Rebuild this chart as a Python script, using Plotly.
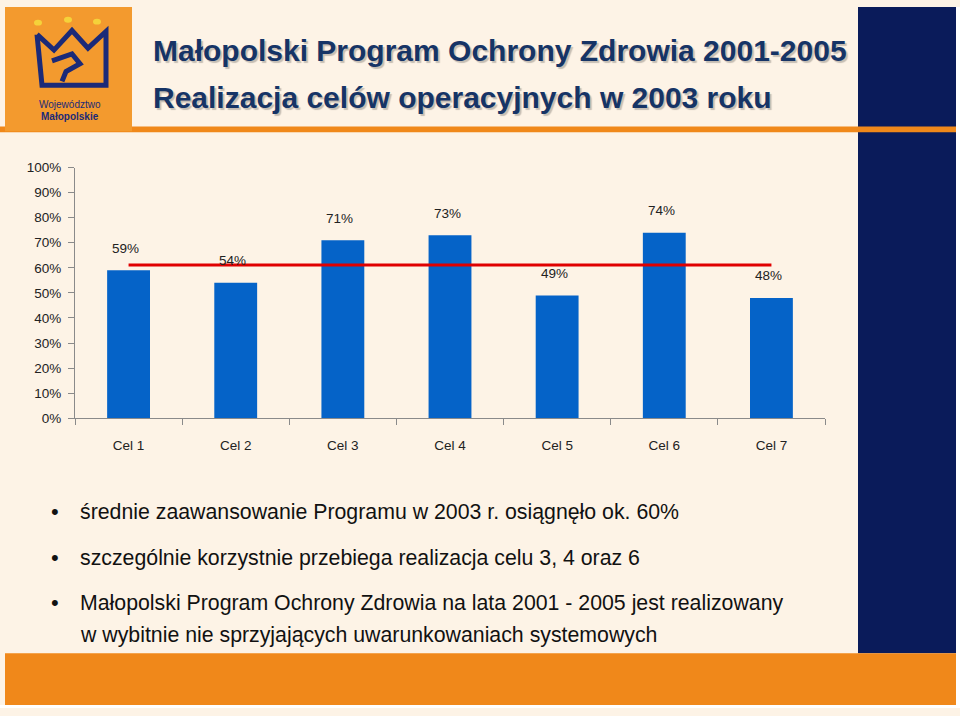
import plotly.graph_objects as go

categories = ["Cel 1", "Cel 2", "Cel 3", "Cel 4", "Cel 5", "Cel 6", "Cel 7"]
values = [59, 54, 71, 73, 49, 74, 48]
y_ticks = [0, 10, 20, 30, 40, 50, 60, 70, 80, 90, 100]
title_lines = ["Małopolski Program Ochrony Zdrowia 2001-2005",
               "Realizacja celów operacyjnych w 2003 roku"]
bullets = [
    "średnie zaawansowanie Programu w 2003 r. osiągnęło ok. 60%",
    "szczególnie korzystnie przebiega realizacja celu 3, 4 oraz 6",
    "Małopolski Program Ochrony Zdrowia na lata 2001 - 2005 jest realizowany<br>w wybitnie nie sprzyjających uwarunkowaniach systemowych",
]

W, H = 960, 716
CREAM = "#FDF3E6"
NAVY = "#0A1B5A"
ORANGE = "#F0881A"
BLUE = "#0563C8"
TITLE_C = "#163466"
FONT = "Liberation Sans, Arial, sans-serif"


def px(x):
    return x / W


def py(y):
    return 1 - y / H


mean_val = sum(values) / len(values)

fig = go.Figure()
fig.add_trace(go.Bar(x=categories, y=[v / 100 for v in values],
                     marker=dict(color=BLUE, line=dict(width=0)),
                     width=0.4, hoverinfo="x+y"))
fig.add_trace(go.Scatter(x=[categories[0], categories[-1]],
                         y=[mean_val / 100, mean_val / 100],
                         mode="lines", line=dict(color="#E00000", width=3),
                         hoverinfo="skip"))

annotations = []
for c, v in zip(categories, values):
    annotations.append(dict(x=c, y=v / 100, xref="x", yref="y", text=f"{v}%",
                            showarrow=False, yshift=22, xshift=-3,
                            font=dict(family=FONT, size=13.5, color="#222")))

# title
for t, yc in zip(title_lines, [44, 92]):
    annotations.append(dict(x=px(151), y=py(yc), xref="paper", yref="paper",
                            xanchor="left", yanchor="middle", text=f"<b>{t}</b>",
                            showarrow=False,
                            font=dict(family=FONT, size=30, color=TITLE_C,
                                      shadow="2px 2px 1px rgba(0,0,0,0.22)")))

# bullets (multi-line bullets split into separately placed lines)
bullet_y = [516, 563, 609]
line_gap = 32
for t, yc in zip(bullets, bullet_y):
    for k, line in enumerate(t.split("<br>")):
        annotations.append(dict(x=px(78), y=py(yc + k * line_gap), xref="paper", yref="paper",
                                xanchor="left", yanchor="middle", text=line, align="left",
                                showarrow=False,
                                font=dict(family=FONT, size=21.3, color="#111")))
    annotations.append(dict(x=px(55), y=py(yc - 1), xref="paper", yref="paper",
                            xanchor="center", yanchor="middle", text="•",
                            showarrow=False,
                            font=dict(family=FONT, size=22, color="#111")))

# logo text
annotations.append(dict(x=px(70), y=py(100), xref="paper", yref="paper",
                        xanchor="center", yanchor="middle",
                        text="Województwo", showarrow=False,
                        font=dict(family=FONT, size=10, color="#1B2A78")))
annotations.append(dict(x=px(70), y=py(112), xref="paper", yref="paper",
                        xanchor="center", yanchor="middle",
                        text="<b>Małopolskie</b>", showarrow=False,
                        font=dict(family=FONT, size=10, color="#1B2A78")))

shapes = []


def rect(x0, y0, x1, y1, color):
    shapes.append(dict(type="rect", xref="paper", yref="paper",
                       x0=px(x0), x1=px(x1), y0=py(y1), y1=py(y0),
                       fillcolor=color, line=dict(width=0), layer="below"))


rect(956, 0, 960, 716, "#FFFFFF")
rect(0, 713, 960, 716, "#FFFFFF")
rect(858, 0, 956, 660, NAVY)
rect(5, 660, 956, 713, ORANGE)
rect(0, 122, 956, 128, ORANGE)
rect(5, 0, 132, 127, "#F39A2E")

# crown outline
pts = [(37, 28), (54, 44), (72, 24), (88, 42), (106, 25), (106, 80), (42, 80), (37, 28)]
path = "M " + " L ".join(f"{px(x)},{py(y)}" for x, y in pts)
shapes.append(dict(type="path", xref="paper", yref="paper", path=path,
                   line=dict(color="#1B2A78", width=5), layer="above"))
inner = [(52, 55), (72, 48), (80, 58), (66, 66), (62, 76)]
path2 = "M " + " L ".join(f"{px(x)},{py(y)}" for x, y in inner)
shapes.append(dict(type="path", xref="paper", yref="paper", path=path2,
                   line=dict(color="#1B2A78", width=5), layer="above"))
for cx, cy in [(38, 16), (68, 13), (97, 15)]:
    shapes.append(dict(type="circle", xref="paper", yref="paper",
                       x0=px(cx - 4), x1=px(cx + 4), y0=py(cy + 3), y1=py(cy - 3),
                       fillcolor="#F5D23A", line=dict(width=0), layer="above"))

fig.update_layout(
    width=W, height=H,
    margin=dict(l=0, r=0, t=0, b=0),
    paper_bgcolor=CREAM, plot_bgcolor="rgba(0,0,0,0)",
    showlegend=False,
    bargap=0.6,
    annotations=annotations,
    shapes=shapes,
    xaxis=dict(domain=[px(75), px(825)], type="category",
               showline=True, linecolor="#8a8a8a", linewidth=1,
               ticks="outside", tickson="boundaries", ticklen=6, tickcolor="#8a8a8a",
               ticklabelstandoff=15,
               showgrid=False, zeroline=False,
               tickfont=dict(family=FONT, size=13.5, color="#222")),
    yaxis=dict(domain=[py(420), py(164)], range=[0, 1],
               tickvals=[t / 100 for t in y_ticks],
               ticktext=[f"{t}%" for t in y_ticks],
               showline=True, linecolor="#8a8a8a", linewidth=1,
               ticks="outside", ticklen=6, tickcolor="#8a8a8a",
               ticklabelstandoff=4,
               showgrid=False, zeroline=False,
               tickfont=dict(family=FONT, size=13.5, color="#222")),
)

fig.write_html("out.html", config={"displayModeBar": False},
               post_script="document.body.style.margin='0';document.body.style.background='#ffffff';")
